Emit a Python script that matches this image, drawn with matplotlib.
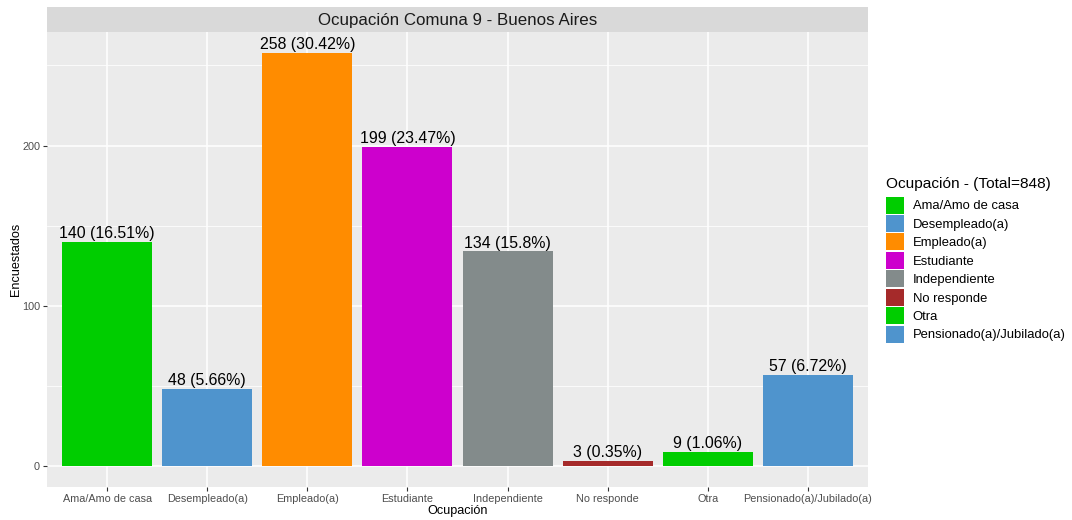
import matplotlib.pyplot as plt
from matplotlib.patches import Patch

plt.rcParams['font.family'] = ['Liberation Sans', 'DejaVu Sans']

categorias = ['Ama/Amo de casa', 'Desempleado(a)', 'Empleado(a)', 'Estudiante',
              'Independiente', 'No responde', 'Otra', 'Pensionado(a)/Jubilado(a)']
encuestados = [140, 48, 258, 199, 134, 3, 9, 57]
porcentajes = ['16.51', '5.66', '30.42', '23.47', '15.8', '0.35', '1.06', '6.72']
colores = ['#00CD00', '#4F94CD', '#FF8C00', '#CD00CD', '#838B8B', '#A52A2A', '#00CD00', '#4F94CD']
total = 848

fig = plt.figure(figsize=(10.72, 5.2), dpi=100)
ax = fig.add_axes([47 / 1072, 1 - 486.7 / 520, (868 - 47) / 1072, (486.7 - 32) / 520])
strip = fig.add_axes([47 / 1072, 1 - 32 / 520, (868 - 47) / 1072, 25 / 520])

x = list(range(len(categorias)))
ax.bar(x, encuestados, width=0.9, color=colores, zorder=3)
for xi, v, p in zip(x, encuestados, porcentajes):
    ax.text(xi, v + 0.5, f'{v} ({p}%)', ha='center', va='bottom', fontsize=11.4, color='black', zorder=4)

ax.set_facecolor('#EBEBEB')
ymax = max(encuestados)
ax.set_ylim(-0.05 * ymax, 1.05 * ymax)
ax.set_xlim(-0.6, len(categorias) - 0.4)
ax.set_yticks([0, 100, 200])
ax.set_yticks([50, 150, 250], minor=True)
ax.set_xticks(x)
ax.set_xticklabels(categorias)
ax.grid(which='major', color='white', linewidth=1.1, zorder=0)
ax.grid(which='minor', axis='y', color='white', linewidth=0.55, zorder=0)
ax.tick_params(axis='both', which='major', colors='#333333', labelcolor='#4D4D4D',
               labelsize=7.8, length=3, width=0.8, pad=2)
ax.tick_params(axis='y', which='minor', length=0)
for s in ax.spines.values():
    s.set_visible(False)
ax.set_xlabel('Ocupación', fontsize=9.1, labelpad=1)
ax.set_ylabel('Encuestados', fontsize=9.1, labelpad=0)

strip.set_facecolor('#D9D9D9')
strip.set_xticks([])
strip.set_yticks([])
for s in strip.spines.values():
    s.set_visible(False)
strip.text(0.5, 0.45, 'Ocupación Comuna 9 - Buenos Aires', ha='center', va='center',
           fontsize=12.2, color='#1A1A1A', transform=strip.transAxes)

handles = [Patch(facecolor=c, edgecolor='none') for c in colores]
leg = fig.legend(handles, categorias, title=f'Ocupación - (Total={total})',
                 loc='upper left', bbox_to_anchor=(886 / 1072, 1 - 177 / 520),
                 frameon=False, fontsize=9.4, title_fontsize=11.1,
                 handlelength=1.38, handleheight=1.62, handletextpad=0.65,
                 labelspacing=0.115, borderaxespad=0, borderpad=0)
leg._legend_box.align = 'left'
leg._legend_box.sep = 4

fig.savefig('out.png', dpi=100)
